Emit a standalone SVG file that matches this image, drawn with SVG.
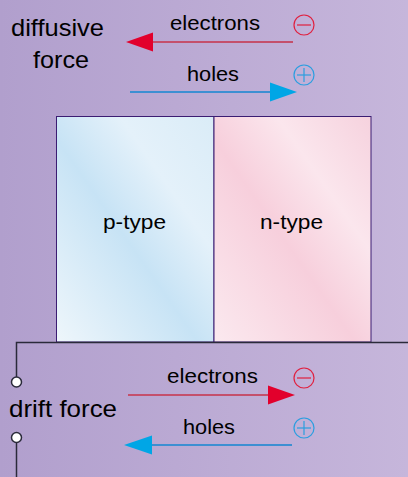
<svg xmlns="http://www.w3.org/2000/svg" width="408" height="477" viewBox="0 0 408 477">
<defs>
<linearGradient id="bg" x1="0" y1="0" x2="1" y2="0">
<stop offset="0" stop-color="#b19fcd"/>
<stop offset="1" stop-color="#c6b6db"/>
</linearGradient>
<linearGradient id="pg" x1="0" y1="1" x2="1" y2="0">
<stop offset="0" stop-color="#eef6fb"/>
<stop offset="0.45" stop-color="#c7e3f5"/>
<stop offset="0.7" stop-color="#e4f1fa"/>
<stop offset="1" stop-color="#daecf7"/>
</linearGradient>
<linearGradient id="ng" x1="0" y1="1" x2="1" y2="0">
<stop offset="0" stop-color="#fbe9ef"/>
<stop offset="0.45" stop-color="#f7cfdc"/>
<stop offset="0.7" stop-color="#fbe6ed"/>
<stop offset="1" stop-color="#f6d2de"/>
</linearGradient>
<style>
text{font-family:"Liberation Sans",Arial,sans-serif;fill:#000}
.lbl{font-size:24.5px}
.sm{font-size:21px}
.eline{stroke:#c4506c;stroke-width:2}
.hline{stroke:#3d8fd2;stroke-width:2}
.ehead{fill:#e2002c}
.hhead{fill:#00a6e6}
.wire{stroke:#2a2a3a;stroke-width:1.5;fill:none}
.term{fill:#fff;stroke:#2a2a3a;stroke-width:1.5}
.neg{fill:none;stroke:#e0203f;stroke-width:1.2}
.pos{fill:none;stroke:#2a9ee0;stroke-width:1.2}
</style>
</defs>
<rect width="408" height="477" fill="url(#bg)"/>
<g id="p-type">
<rect x="56.5" y="116.5" width="157.5" height="225.5" fill="url(#pg)" stroke="#3b1c72" stroke-width="1"/>
<text x="103" y="229" class="sm" textLength="63" lengthAdjust="spacingAndGlyphs">p-type</text>
</g>
<g id="n-type">
<rect x="214" y="116.5" width="157" height="225.5" fill="url(#ng)" stroke="#3b1c72" stroke-width="1"/>
<text x="260" y="229" class="sm" textLength="63" lengthAdjust="spacingAndGlyphs">n-type</text>
</g>
<g id="diffusive-force">
<text x="11" y="36" class="lbl" textLength="93" lengthAdjust="spacingAndGlyphs">diffusive</text>
<text x="33" y="68" class="lbl" textLength="56" lengthAdjust="spacingAndGlyphs">force</text>
</g>
<g id="drift-force">
<text x="9" y="417" class="lbl" textLength="108" lengthAdjust="spacingAndGlyphs">drift force</text>
</g>
<g id="charges">
<g id="minus-top"><circle cx="304" cy="25" r="10" class="neg"/><line x1="297" y1="25" x2="311" y2="25" class="neg"/></g>
<g id="plus-top"><circle cx="304" cy="75" r="10" class="pos"/><line x1="297" y1="75" x2="311" y2="75" class="pos"/><line x1="304" y1="68" x2="304" y2="82" class="pos"/></g>
<g id="minus-bot"><circle cx="304" cy="378" r="10" class="neg"/><line x1="297" y1="378" x2="311" y2="378" class="neg"/></g>
<g id="plus-bot"><circle cx="304" cy="428" r="10" class="pos"/><line x1="297" y1="428" x2="311" y2="428" class="pos"/><line x1="304" y1="421" x2="304" y2="435" class="pos"/></g>
</g>
<g id="connectors">
<text x="170" y="30" class="sm" textLength="90" lengthAdjust="spacingAndGlyphs">electrons</text>
<line x1="293" y1="42" x2="150" y2="42" class="eline"/>
<polygon points="126,42 153,32.5 153,51.5" class="ehead"/>
<text x="187" y="80.5" class="sm" textLength="52" lengthAdjust="spacingAndGlyphs">holes</text>
<line x1="130" y1="92" x2="272" y2="92" class="hline"/>
<polygon points="297,92 270,82.5 270,101.5" class="hhead"/>
<text x="167" y="383" class="sm" textLength="91" lengthAdjust="spacingAndGlyphs">electrons</text>
<line x1="128" y1="395" x2="270" y2="395" class="eline"/>
<polygon points="295,395 268,385.5 268,404.5" class="ehead"/>
<text x="183" y="433.5" class="sm" textLength="52" lengthAdjust="spacingAndGlyphs">holes</text>
<line x1="292" y1="445" x2="150" y2="445" class="hline"/>
<polygon points="124,445 152,435.5 152,454.5" class="hhead"/>
<polyline points="408,342.5 16.5,342.5 16.5,377" class="wire"/>
<line x1="16.5" y1="443" x2="16.5" y2="477" class="wire"/>
<circle cx="16.5" cy="382" r="5" class="term"/>
<circle cx="16.5" cy="437.5" r="5" class="term"/>
</g>
</svg>
